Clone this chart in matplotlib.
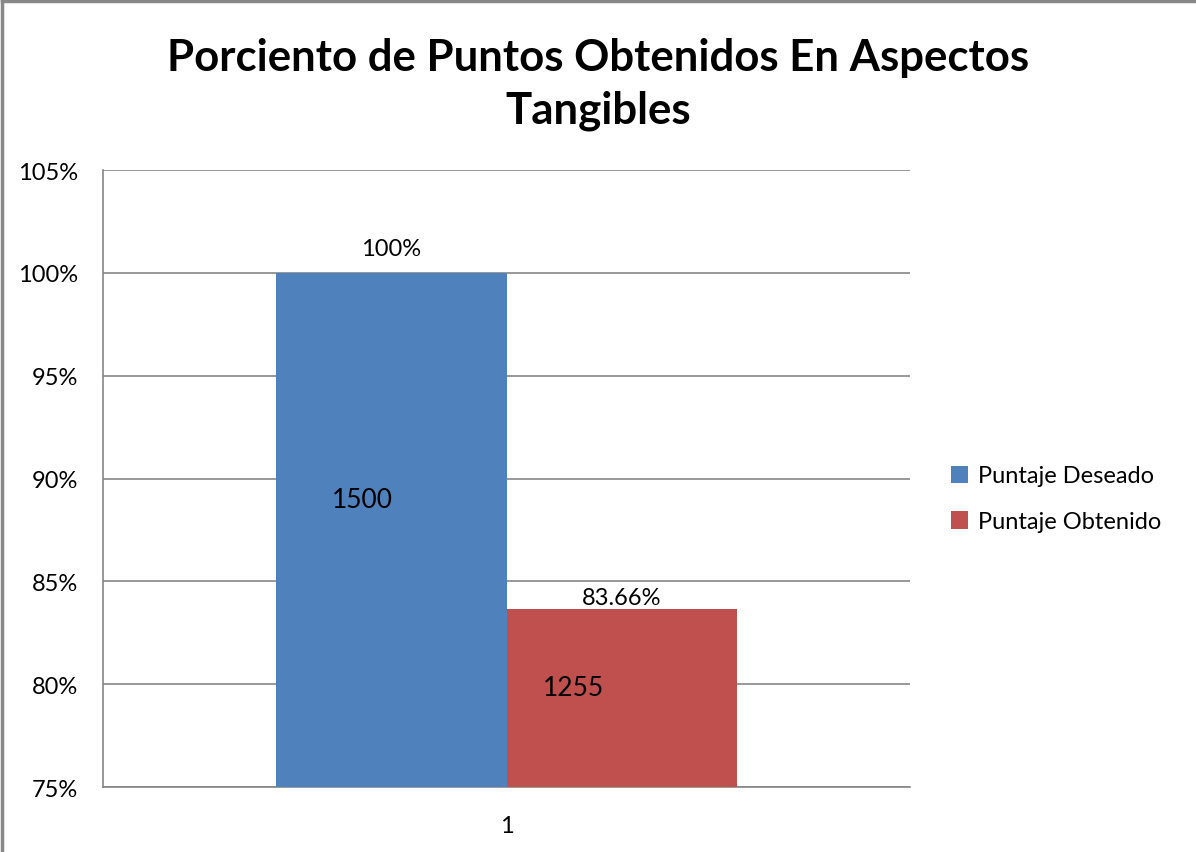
import matplotlib.pyplot as plt
from matplotlib.lines import Line2D
from matplotlib.ticker import FuncFormatter

plt.rcParams['font.family'] = ['Lato', 'DejaVu Sans']

series = ['Puntaje Deseado', 'Puntaje Obtenido']
percent = [100.0, 83.66]
points = [1500, 1255]
pct_labels = ['100%', '83.66%']
colors = ['#4F81BD', '#C0504D']
category = 1

fig = plt.figure(figsize=(11.96, 8.53), dpi=100)
ax = fig.add_axes([0.0861, 0.0762, 0.6748, 0.7233])

width = 0.286
offsets = [-width / 2, width / 2]
bars = []
for name, val, col, off in zip(series, percent, colors, offsets):
    b = ax.bar(category + off, val, width=width, bottom=0, color=col, label=name, zorder=3)
    bars.append(b[0])

ax.set_ylim(75, 105)
ax.set_xlim(0.5, 1.5)
ax.set_yticks(range(75, 106, 5))
ax.yaxis.set_major_formatter(FuncFormatter(lambda v, p: '%d%%' % v))
ax.set_xticks([category])
ax.set_xticklabels([str(category)])
ax.tick_params(axis='both', length=0, labelsize=17)
ax.tick_params(axis='y', pad=18)
ax.tick_params(axis='x', pad=20)
ax.grid(axis='y', color='#868686', linewidth=1.2, zorder=0)
for s in ['top', 'right']:
    ax.spines[s].set_visible(False)
for s in ['left', 'bottom']:
    ax.spines[s].set_color('#868686')
    ax.spines[s].set_linewidth(1.2)

# percent labels above the bars, point totals inside
pct_gap = [0.87, 0.24]
pts_dx = [-0.035, -0.06]
pts_y = [89.0, 79.85]
for bar, lab, pts, gap, dx, ylab in zip(bars, pct_labels, points, pct_gap, pts_dx, pts_y):
    cx = bar.get_x() + bar.get_width() / 2
    ax.text(cx, bar.get_height() + gap, lab, ha='center', va='baseline', fontsize=17)
    ax.text(cx + dx, ylab, str(pts), ha='center', va='center', fontsize=19)

fig.suptitle('Porciento de Puntos Obtenidos En Aspectos\nTangibles', x=0.5, y=0.956,
             fontsize=31.5, fontweight='bold', linespacing=1.4)

leg = fig.legend(loc='center left', bbox_to_anchor=(0.777, 0.414), frameon=False,
                 fontsize=17, handlelength=0.75, handleheight=0.75, handletextpad=0.4,
                 labelspacing=1.05)

# outer chart border
fig.add_artist(Line2D([0.002, 0.002], [0, 0.998], color='#888888', linewidth=2.5, transform=fig.transFigure))
fig.add_artist(Line2D([0.002, 1], [0.998, 0.998], color='#888888', linewidth=2.5, transform=fig.transFigure))

fig.savefig('out.png', dpi=100)
